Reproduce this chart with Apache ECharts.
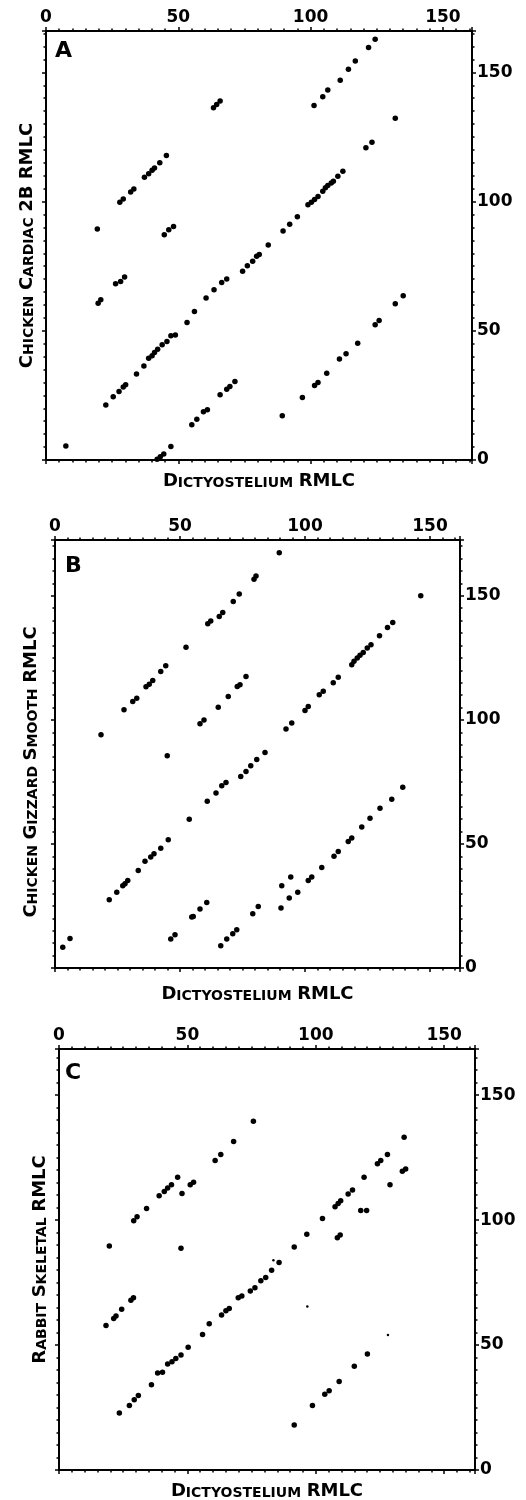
<!DOCTYPE html>
<html>
<head>
<meta charset="utf-8">
<script src="https://cdn.jsdelivr.net/npm/echarts@6/dist/echarts.min.js"></script>
<style>
  body { margin: 0; background: #fff; }
  #main { width: 526px; height: 1500px; }
</style>
</head>
<body>
<div id="main"></div>
<script>
// dot matrix comparisons, [dictyostelium residue, other residue]
let panelA = [
  [101.3, 137.2], [104.6, 140.6], [106.5, 143.2], [111.2, 146.9], [114.3, 151.2], [116.9, 154.4], [121.9, 159.6], [124.4, 162.8],
  [27.9, 99.7], [29.2, 101], [32, 103.7], [33.2, 104.9], [37.2, 109.4], [38.8, 110.8], [40.1, 112.1], [41, 113], [43, 115], [45.5, 117.8],
  [19.4, 89.4], [44.7, 87.2], [46.4, 89.1], [48.2, 90.4],
  [63.3, 136.3], [64.5, 137.6], [65.8, 138.9],
  [22.6, 21.3], [25.4, 24.5], [27.6, 26.5], [29.2, 28.2], [30.1, 29.1], [34.2, 33.3], [37, 36.4], [38.8, 39.4], [40.1, 40.3],
  [41, 41.6], [42.2, 42.9], [43.9, 44.6], [45.7, 45.9], [47.2, 48.1], [48.9, 48.4], [53.3, 53.2], [56.1, 57.5], [60.5, 62.7],
  [63.5, 65.9], [66.4, 68.7], [68.3, 70], [74.3, 73], [76.1, 75.2], [78.1, 76.9], [79.6, 78.8], [80.6, 79.5], [84, 83.2],
  [89.6, 88.6], [92.1, 91.2], [95, 94.1], [99, 98.8], [100.3, 99.7], [101.5, 100.8], [102.8, 102], [104.6, 104], [105.6, 105.3],
  [106.5, 106.2], [107.8, 107.2], [108.6, 107.9], [110.3, 109.8], [112.2, 111.7], [120.9, 120.8], [123.2, 123], [132, 132.2],
  [19.7, 60.7], [20.7, 62], [26.3, 68.2], [28.2, 69.1], [29.7, 70.8],
  [7.5, 5.4], [42, 0.3], [43.2, 1.3], [44.5, 2.3], [47.2, 5.2],
  [55.1, 13.6], [57, 15.8], [59.5, 18.7], [61, 19.4], [65.8, 25.2], [68.3, 27.4], [69.5, 28.4], [71.4, 30.4],
  [89.3, 17.1], [96.9, 24.2], [101.5, 28.8], [102.8, 30], [106.1, 33.6], [110.9, 39.1], [113.4, 41.1], [117.8, 45.2],
  [124.4, 52.3], [125.9, 54], [132, 60.5], [135, 63.6]
];

let panelB = [
  [89.7, 167.4], [80.4, 158], [79.6, 156.7], [73.7, 150.7], [71.3, 147.7], [67.1, 143.3], [65.7, 141.7], [62.3, 139.9],
  [61.1, 138.7], [52.4, 129.3], [44.3, 121.8], [42.3, 119.5], [39.1, 115.9], [37.7, 114.4], [36.4, 113.4], [32.7, 108.7],
  [31.1, 107.4], [27.6, 104.1], [18.4, 94],
  [146.3, 150],
  [135.1, 139.2], [133, 137.2], [129.8, 133.9], [126.4, 130.3], [124.9, 129], [123.3, 127.2], [122, 126], [120.9, 124.9],
  [119.6, 123.6], [118.7, 122.2], [113.3, 117.2], [111.3, 115], [107.3, 111.5], [105.7, 110.1], [101.3, 105.4], [100, 103.8],
  [94.7, 98.7], [92.4, 96.3],
  [76.4, 117.5], [74, 114.2], [72.9, 113.5], [69.3, 109.4], [65.3, 105.1], [59.6, 100], [58, 98.4],
  [44.9, 85.5],
  [84, 86.9], [80.7, 84], [78.3, 81.5], [76.4, 79.2], [74.3, 77.2], [68.4, 74.8], [66.7, 73.5], [64.4, 70.5], [60.9, 67.2],
  [53.7, 60], [45.3, 51.7], [42.3, 48.3], [39.6, 46], [38.3, 44.7], [36, 43], [33.3, 39.3], [29.1, 35.3], [28, 34],
  [27.1, 33.2], [24.7, 30.5], [21.7, 27.5],
  [6, 11.9], [3.1, 8.4],
  [60.7, 26.4], [58, 23.8], [55.3, 20.8], [54.7, 20.6], [48, 13.4], [46.3, 11.7],
  [81.3, 24.8], [79.1, 21.9], [72.7, 15.4], [71.1, 13.8], [68.7, 11.7], [66.3, 9],
  [90.4, 24.2], [93.7, 28.2], [97.1, 30.5], [90.7, 33.2], [94.3, 36.7], [101.3, 35.3], [102.7, 36.7], [106.7, 40.5],
  [111.6, 45], [113.3, 47], [117.3, 51], [118.7, 52.4], [122.7, 56.8], [126, 60.4], [130, 64.4], [134.7, 68], [139.1, 72.8]
];

let panelC = [
  [75.7, 139.6], [68, 131.5], [63, 126.3], [60.8, 123.9], [52.4, 115.2], [51.1, 114.2], [46.2, 117.2], [43.8, 114.2],
  [42.3, 112.9], [41, 111.5], [39, 109.8], [47.9, 110.7], [34.1, 104.7], [30.4, 101.4], [29.1, 99.8],
  [134.4, 133.2], [127.9, 126.3], [125.3, 123.9], [124, 122.6], [135, 120.5], [133.7, 119.6], [118.8, 117.2], [128.9, 114.2],
  [114.3, 112.1], [112.6, 110.5], [109.7, 107.8], [108.7, 106.7], [107.5, 105.4], [117.5, 103.9], [119.8, 103.9],
  [102.6, 100.7], [96.5, 94.4], [109.5, 94.1], [108.4, 93],
  [19.6, 89.7], [47.5, 88.8], [91.6, 89.3], [85.7, 83], [82.8, 79.9], [80.5, 77], [78.6, 75.7], [76.3, 72.9], [74.5, 71.6],
  [71.2, 69.6], [69.8, 68.9], [66.3, 64.6], [65, 63.7], [63.3, 62], [58.5, 58.5], [55.9, 54.2], [50.3, 49.1], [47.5, 46],
  [45.5, 44.6], [44, 43.3], [42.3, 42.4], [40.3, 39.1], [38.4, 38.8], [36, 34.1], [30.9, 29.8], [29.3, 28.1], [27.4, 25.8],
  [23.5, 22.8],
  [29, 68.9], [28, 67.9], [24.4, 64.3], [22.2, 61.6], [21.3, 60.6], [18.3, 57.8],
  [120.1, 46.4], [115, 41.5], [109.1, 35.4], [105.2, 31.7], [103.5, 30.3], [98.7, 25.8], [91.6, 18]
];
// faint specks in panel C
let panelCFaint = [[83.5, 83.9], [96.7, 65.4], [128.1, 54]];

let panelLetters = ["A", "B", "C"];
let xTitle = "{b|D}{s|ICTYOSTELIUM} {b|RMLC}";
let yTitles = [
  "{b|C}{s|HICKEN} {b|C}{s|ARDIAC} {b|2B RMLC}",
  "{b|C}{s|HICKEN} {b|G}{s|IZZARD} {b|S}{s|MOOTH} {b|RMLC}",
  "{b|R}{s|ABBIT} {b|S}{s|KELETAL} {b|RMLC}"
];
let xMax = [161, 162, 162];
let yMax = [166, 172.5, 168.5];

let initEcharts = () => {
  let ink = "#000";
  let font = "DejaVu Sans";
  let rich = {
    b: { fontFamily: font, fontWeight: "bold", fontSize: 18, color: ink, verticalAlign: "bottom" },
    s: { fontFamily: font, fontWeight: "bold", fontSize: 14, color: ink, verticalAlign: "bottom" },
  };

  let grids = [
    { left: 46, top: 31, width: 426, height: 429 },
    { left: 55, top: 540, width: 405, height: 428 },
    { left: 59, top: 1049, width: 416, height: 421 },
  ];
  let xGap = [12, 17, 12];
  let yGap = [10, 15, 10];

  let axisBase = (max, gridIndex, showLabel) => ({
    type: "value",
    gridIndex: gridIndex,
    min: 0,
    max: max,
    interval: 50,
    axisLine: { show: true, onZero: false, lineStyle: { color: ink, width: 2 } },
    axisTick: { show: true, length: 4, lineStyle: { color: ink, width: 1.5 } },
    minorTick: { show: true, splitNumber: 10, length: 2.5, lineStyle: { color: ink, width: 1.5 } },
    splitLine: { show: false },
    axisLabel: {
      show: showLabel,
      margin: 5,
      showMaxLabel: false,
      fontFamily: font,
      fontWeight: "bold",
      fontSize: 17,
      color: ink,
      formatter: (v) => (v % 50 === 0 ? v : ""),
    },
  });

  let xAxis = [];
  let yAxis = [];
  let series = [];
  for (let i = 0; i < 3; i++) {
    xAxis.push(Object.assign(axisBase(xMax[i], i, true), { position: "top" }));
    xAxis.push(Object.assign(axisBase(xMax[i], i, false), {
      position: "bottom",
      name: xTitle,
      nameLocation: "middle",
      nameGap: xGap[i],
      nameTextStyle: { rich: rich, fontFamily: font, fontWeight: "bold", fontSize: 16 },
    }));
    yAxis.push(Object.assign(axisBase(yMax[i], i, true), { position: "right" }));
    yAxis.push(Object.assign(axisBase(yMax[i], i, false), {
      position: "left",
      name: yTitles[i],
      nameLocation: "middle",
      nameRotate: 90,
      nameGap: yGap[i],
      nameTextStyle: {
        rich: rich,
        fontFamily: font,
        fontWeight: "bold",
        fontSize: 16,
        padding: i === 1 ? [0, 36, 0, 0] : 0,
      },
    }));
  }

  let dots = [panelA, panelB, panelC];
  dots.forEach((d, i) => {
    series.push({
      type: "scatter",
      xAxisIndex: i * 2,
      yAxisIndex: i * 2,
      symbolSize: 5.5,
      itemStyle: { color: ink, opacity: 1 },
      data: d,
    });
  });
  series.push({
    type: "scatter",
    xAxisIndex: 4,
    yAxisIndex: 4,
    symbolSize: 2.5,
    itemStyle: { color: ink, opacity: 1 },
    data: panelCFaint,
  });

  let letterPos = [[55, 40], [65, 555], [65, 1062]];
  let option = {
    animation: false,
    backgroundColor: "#fff",
    title: panelLetters.map((t, i) => ({
      text: t,
      left: letterPos[i][0],
      top: letterPos[i][1],
      padding: 0,
      textStyle: { fontFamily: font, fontWeight: "bold", fontSize: 22, color: ink },
    })),
    grid: grids.map((g) => Object.assign({ containLabel: false, outerBoundsMode: "none" }, g)),
    xAxis: xAxis,
    yAxis: yAxis,
    series: series,
  };

  var myChart = echarts.init(document.getElementById("main"));
  myChart.setOption(option);
};

initEcharts();
</script>
</body>
</html>
